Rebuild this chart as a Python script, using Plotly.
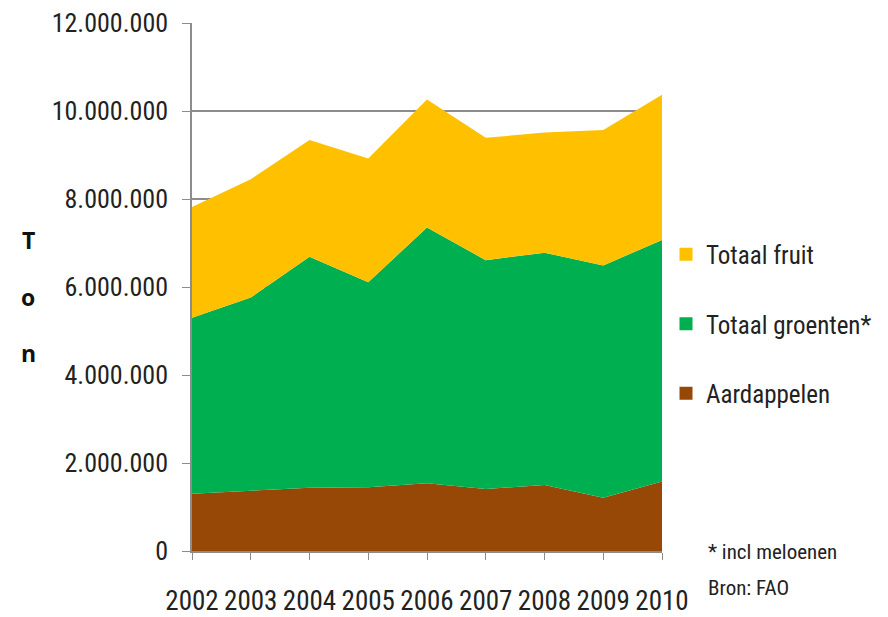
import plotly.graph_objects as go

years = [2002, 2003, 2004, 2005, 2006, 2007, 2008, 2009, 2010]
aardappelen = [1300000, 1370000, 1440000, 1450000, 1540000, 1410000, 1500000, 1210000, 1580000]
groenten = [4000000, 4390000, 5250000, 4660000, 5810000, 5200000, 5280000, 5280000, 5490000]
fruit = [2520000, 2690000, 2650000, 2810000, 2910000, 2780000, 2730000, 3080000, 3300000]
series_names = ["Aardappelen", "Totaal groenten*", "Totaal fruit"]
colors = ["#974706", "#00B050", "#FFC000"]
y_ticks = [0, 2000000, 4000000, 6000000, 8000000, 10000000, 12000000]
y_tick_text = ["0", "2.000.000", "4.000.000", "6.000.000", "8.000.000", "10.000.000", "12.000.000"]

FONT = "Liberation Sans Narrow, Arial Narrow, Roboto Condensed, sans-serif"

# page has an 8px body margin: figure is placed at (8, 8)
OFF = 8
W, H = 888 - OFF, 617 - OFF
L, T, R, B = 192 - OFF, 23 - OFF, 888 - 662, 617 - 551
PW, PH = 662 - 192, 551 - 23

fig = go.Figure()
for name, vals, col in zip(series_names, [aardappelen, groenten, fruit], colors):
    fig.add_trace(go.Scatter(
        x=years, y=vals, name=name, mode="lines",
        stackgroup="one", line=dict(width=0, color=col), fillcolor=col,
        showlegend=False, hoverinfo="x+y+name",
    ))
for rank, (name, col) in enumerate(zip(series_names[::-1], colors[::-1])):
    fig.add_trace(go.Scatter(
        x=[None], y=[None], name=name, mode="markers",
        marker=dict(symbol="square", size=13, color=col),
        legendgroup=str(rank), legendrank=rank + 1, showlegend=True,
    ))

fig.update_layout(
    width=W, height=H,
    margin=dict(l=L, r=R, t=T, b=B, autoexpand=False),
    plot_bgcolor="white", paper_bgcolor="white",
    font=dict(family=FONT, size=25, color="#222222"),
    showlegend=True,
    legend=dict(xref="container", yref="container", x=(666 - OFF) / W, y=1 - (324 - OFF) / H,
                xanchor="left", yanchor="middle",
                traceorder="grouped", tracegroupgap=34,
                font=dict(family=FONT, size=25, color="#222222"),
                itemwidth=30, bgcolor="rgba(0,0,0,0)"),
    xaxis=dict(range=[2002, 2010], tickvals=years, ticktext=[str(y) for y in years],
               automargin=False,
               showgrid=False, showline=True, linecolor="#8c8c8c", linewidth=1.5,
               ticks="outside", ticklen=7, tickcolor="#8c8c8c", zeroline=False,
               ticklabelstandoff=18,
               tickfont=dict(family=FONT, size=27, color="#222222")),
    yaxis=dict(range=[0, 12000000], tickvals=y_ticks, ticktext=y_tick_text,
               automargin=False,
               showgrid=True, gridcolor="#8c8c8c", gridwidth=1.5,
               showline=True, linecolor="#8c8c8c", linewidth=1.5,
               ticks="outside", ticklen=8, tickcolor="#8c8c8c", zeroline=False,
               ticklabelstandoff=9,
               tickfont=dict(family=FONT, size=26, color="#222222")),
)

for letter, ypix in zip(["T", "o", "n"], [240, 297, 353]):
    fig.add_annotation(text="<b>" + letter + "</b>", xref="paper", yref="paper",
                       x=(28 - 192) / PW, y=(551 - ypix) / PH,
                       xanchor="center", yanchor="middle", showarrow=False,
                       font=dict(family="Open Sans, sans-serif", size=23, color="#111111"))
for line_text, ypix in zip(["* incl meloenen", "Bron: FAO"], [552, 588]):
    fig.add_annotation(text=line_text, xref="paper", yref="paper",
                       x=(706 - 192) / PW, y=(551 - ypix) / PH,
                       xanchor="left", yanchor="middle", showarrow=False,
                       font=dict(family=FONT, size=21, color="#222222"))

fig.write_html("out.html")
